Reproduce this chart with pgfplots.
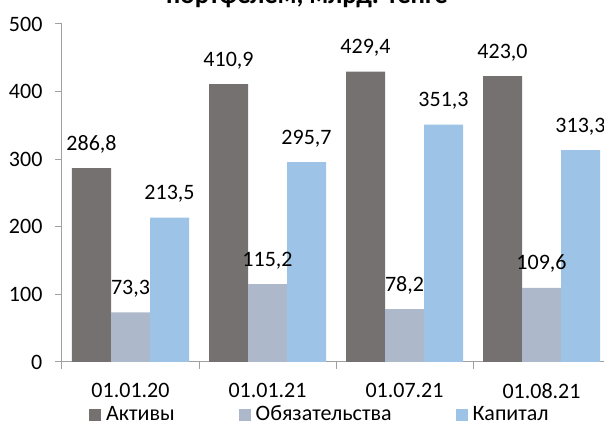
\documentclass[border=0pt]{standalone}
\usepackage{pgfplots}
\pgfplotsset{compat=1.18}
\usepackage{fontspec}
\setmainfont{Carlito}
\definecolor{cA}{HTML}{767171}
\definecolor{cB}{HTML}{ADB9CA}
\definecolor{cC}{HTML}{9DC3E6}
\definecolor{axc}{HTML}{A0A0A0}
\begin{document}
\fontsize{16.5}{20}\selectfont
\begin{tikzpicture}[x=0.75pt,y=0.75pt]
\begin{axis}[
  scale only axis, width=406.5pt, height=253.5pt,
  xmin=-0.5, xmax=3.456, ymin=0, ymax=500,
  enlargelimits=false, clip=false,
  axis x line=bottom, axis y line=left,
  axis line style={draw=axc, line width=0.75pt, -},
  ybar=0pt, bar width=0.2847,
  /pgf/number format/assume math mode=true,
  ytick={0,100,...,500},
  tick align=outside, major tick length=5.25pt,
  tick style={draw=axc, line width=0.75pt},
  yticklabel style={font=\fontsize{16.5}{20}\selectfont, inner sep=0pt, xshift=-9.25pt},
  xtick={-0.5,0.5,1.5,2.5}, xticklabels={},
  extra x ticks={0,1,2,3},
  extra x tick labels={01.01.20,01.01.21,01.07.21,01.08.21},
  extra x tick style={major tick length=0pt, tick label style={font=\fontsize{16.5}{20}\selectfont, inner sep=0pt, yshift=-15.75pt}},
  nodes near coords={\pgfmathprintnumber[fixed,fixed zerofill,precision=1,use comma]{\pgfplotspointmeta}},
  every node near coord/.append style={font=\fontsize{16.5}{20}\selectfont, anchor=base, inner sep=0pt, yshift=13.5pt, text=black},
  legend columns=3,
  legend style={at={(0.0497,0)}, anchor=west, yshift=-39.75pt, draw=none, fill=none, inner sep=0pt,
    font=\fontsize{16.5}{20}\selectfont,
    nodes={inner sep=0pt},
    /tikz/every even column/.append style={column sep=48pt}},
  legend image code/.code={\fill[#1,draw=none] (0,-4.5pt) rectangle (9pt,4.5pt); \path (12.75pt,0);},
]
\addplot[fill=cA, draw=none] coordinates {(0,286.8) (1,410.9) (2,429.4) (3,423.0)};
\addplot[fill=cB, draw=none] coordinates {(0,73.3) (1,115.2) (2,78.2) (3,109.6)};
\addplot[fill=cC, draw=none] coordinates {(0,213.5) (1,295.7) (2,351.3) (3,313.3)};
\legend{Активы,Обязательства,Капитал}
\coordinate (O) at (axis cs:-0.5,0);
\end{axis}
\pgfresetboundingbox
\path[use as bounding box] ([shift={(-62,-72)}]O) rectangle ([shift={(542,362)}]O);
\node[anchor=base, font=\fontsize{20}{22}\selectfont\bfseries, inner sep=0pt] at ([shift={(245,358)}]O) {портфелем, млрд. тенге};
\end{tikzpicture}
\end{document}
